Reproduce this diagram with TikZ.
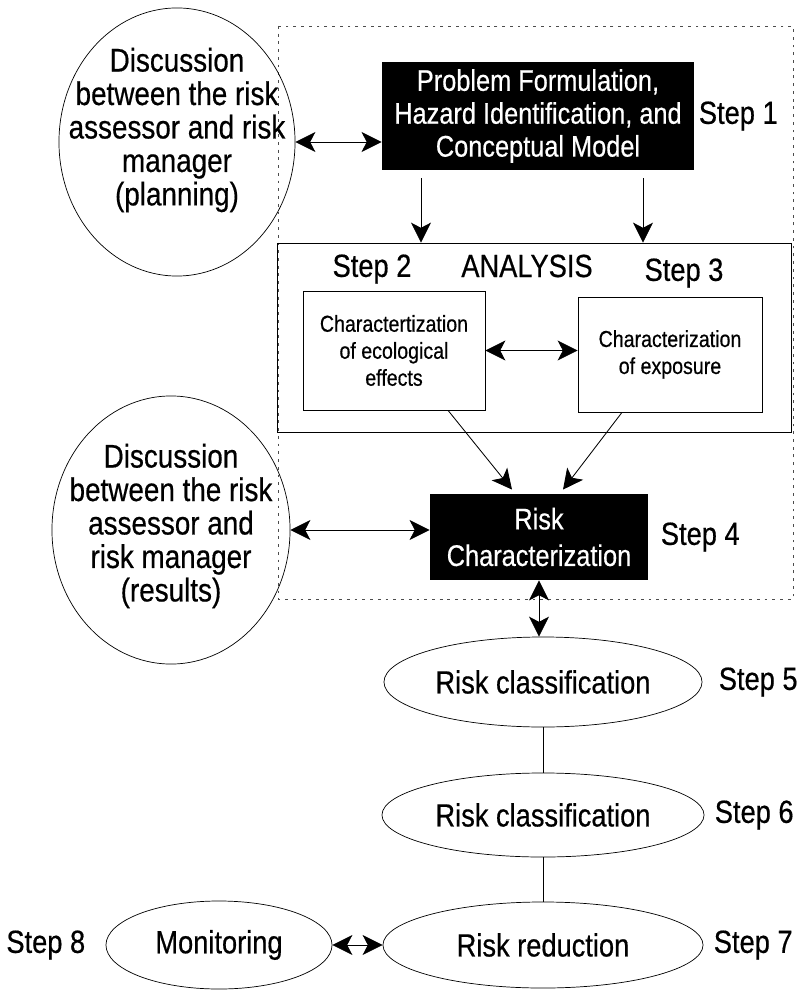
\documentclass[tikz,border=0pt]{standalone}
\usepackage{fontspec}
\setmainfont[FakeStretch=0.85,FakeBold=0.5]{Liberation Sans}
\usetikzlibrary{
    arrows.meta, % for the stealth tips
    positioning, % for the step labels next to their boxes
    shapes.geometric % for the ellipses
}

\begin{document}
\begin{tikzpicture}[
    x=0.025cm,y=-0.025cm,>={Stealth[length=5mm,width=5mm,inset=1.3mm]},
    line width=0.6pt,
    every node/.style   = {inner sep=0pt},
    discussion/.style   = {ellipse,draw,line width=0.5pt,minimum width=5.9cm,minimum height=6.7cm},
    disc text/.style    = {align=center,font=\fontsize{23.3}{23.8}\selectfont},
    black box/.style    = {rectangle,fill=black,text=white,align=center},
    white box/.style    = {rectangle,draw,line width=0.5pt,align=center},
    oval/.style         = {ellipse,draw,line width=0.5pt,font=\fontsize{22.8}{24}\selectfont},
    step label/.style   = {font=\fontsize{22.8}{24}\selectfont},
    dotted frame/.style = {draw=black!70,dash pattern=on 2pt off 3.5pt}
]
\useasboundingbox (0,0) rectangle (800,990);

% frame round steps 1 to 4

    \draw [dotted frame] (278,26) rectangle (793,599);

% step 1 and the planning talk

    \node [discussion,label={[disc text,yshift=3mm]center:Discussion\\between the risk\\assessor and risk\\manager\\(planning)}] (plan) at (177,142) {};
    \node [black box,minimum width=7.8cm,minimum height=2.7cm,font=\fontsize{21.2}{23.4}\selectfont] (problem) at (538,116)
        {Problem Formulation,\\Hazard Identification, and\\Conceptual Model};
    \node [step label] (step1) [right=1mm of problem] {Step 1};

% analysis: steps 2 and 3

    \node [white box,minimum width=12.85cm,minimum height=4.725cm] (analysis) at (534,337.5) {};
    \node [step label] (analysis title) at (527,266) {ANALYSIS};
    \node [step label] (step2) at (372,269) {Step 2};
    \node [step label] (step3) at (684,273) {Step 3};
    \node [white box,minimum width=4.55cm,minimum height=2.975cm,font=\fontsize{16.4}{19.2}\selectfont] (effects) at (394,350.5)
        {Charactertization\\of ecological\\effects};
    \node [white box,minimum width=4.6cm,minimum height=2.875cm,font=\fontsize{16.4}{19.2}\selectfont] (exposure) at (670,354.5)
        {Characterization\\of exposure};

% step 4 and the results talk

    \node [black box,minimum width=5.45cm,minimum height=2.15cm,font=\fontsize{21.2}{26}\selectfont] (riskchar) at (539,537)
        {Risk\\Characterization};
    \node [step label] (step4) [right=3mm of riskchar] {Step 4};
    \node [discussion,minimum width=5.95cm,label={[disc text,yshift=1mm]center:Discussion\\between the risk\\assessor and\\risk manager\\(results)}] (results) at (171,530) {};

% steps 5 to 8

    \node [oval,minimum width=7.95cm,minimum height=2.25cm] (classA) at (543,682) {Risk classification};
    \node [step label] (step5) [right=4mm of classA] {Step 5};
    \node [oval,minimum width=8.05cm,minimum height=2.1cm] (classB) at (543,815) {Risk classification};
    \node [step label] (step6) [right=2.5mm of classB] {Step 6};
    \node [oval,minimum width=8cm,minimum height=2.15cm] (reduction) at (543,945) {Risk reduction};
    \node [step label] (step7) [right=2.5mm of reduction] {Step 7};
    \node [oval,minimum width=5.65cm,minimum height=2.2cm] (monitoring) at (219,945) {Monitoring};
    \node [step label] (step8) [left=5mm of monitoring] {Step 8};

% connectors

    \draw [<->] (plan.east) -- (plan.east -| problem.west);
    \draw [->] ([xshift=-2.925cm,yshift=-2mm]problem.south) -- ([xshift=-2.925cm]problem.south |- analysis.north);
    \draw [->] ([xshift=2.625cm,yshift=-2mm]problem.south) -- ([xshift=2.625cm]problem.south |- analysis.north);
    \draw [<->] (effects.east) -- (effects.east -| exposure.west);
    \draw [->] ([xshift=1.35cm]effects.south) -- ([xshift=-6.75mm,yshift=1mm]riskchar.north);
    \draw [->] ([xshift=-1.2cm]exposure.south) -- ([xshift=6mm,yshift=1mm]riskchar.north);
    \draw [<->] (results.east) -- (results.east -| riskchar.west);
    \draw [<->] (riskchar.south) -- (riskchar.south |- classA.north);
    \draw (classA) -- (classB);
    \draw (classB) -- (reduction);
    \draw [<->] (monitoring) -- (reduction);

\end{tikzpicture}
\end{document}
